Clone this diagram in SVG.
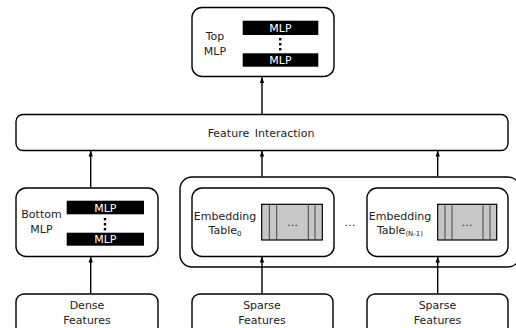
<svg xmlns="http://www.w3.org/2000/svg" width="516" height="328" viewBox="0 0 516 328">
<defs>
<marker id="ah" viewBox="0 0 6 6" refX="5.5" refY="3" markerWidth="6" markerHeight="6" markerUnits="userSpaceOnUse" orient="auto">
<path d="M0,0.8 L6,3 L0,5.2 Z" fill="#000"/>
</marker>
<style>
.box{fill:#fff;stroke:#000;stroke-width:1.4}
.t{font-family:"DejaVu Sans",Verdana,sans-serif;font-size:11px;fill:#222;text-anchor:middle}
.w{font-family:"DejaVu Sans",Verdana,sans-serif;font-size:11px;fill:#fff;text-anchor:middle}
.bar{fill:#000}
.tbl{fill:#c8c8c8;stroke:#000;stroke-width:1.2}
.tl{stroke:#444;stroke-width:1}
.c{stroke:#000;stroke-width:1.4;fill:none;marker-end:url(#ah)}
</style>
</defs>
<rect width="516" height="328" fill="#fff"/>

<g id="container">
<rect class="box" x="180" y="177" width="340" height="90" rx="12"/>
<text class="t" x="350" y="226">…</text>
</g>

<g id="top-mlp">
<rect class="box" x="192" y="7.5" width="142" height="69" rx="10"/>
<text class="t" x="215" y="39.5">Top</text>
<text class="t" x="215" y="54.5">MLP</text>
<rect class="bar" x="242.7" y="20.7" width="75.6" height="14.3"/>
<text class="w" x="280.5" y="32">MLP</text>
<rect class="bar" x="279" y="38" width="2.4" height="2.4"/>
<rect class="bar" x="279" y="43" width="2.4" height="2.4"/>
<rect class="bar" x="279" y="48" width="2.4" height="2.4"/>
<rect class="bar" x="242.7" y="53.3" width="75.6" height="13.4"/>
<text class="w" x="280.5" y="64">MLP</text>
</g>

<g id="feature-interaction">
<rect class="box" x="16" y="114.5" width="492" height="36" rx="7"/>
<text class="t" x="261" y="137" word-spacing="2">Feature Interaction</text>
</g>

<g id="bottom-mlp">
<rect class="box" x="16" y="188" width="142" height="68.5" rx="10"/>
<text class="t" x="41.5" y="218">Bottom</text>
<text class="t" x="41.5" y="232.5">MLP</text>
<rect class="bar" x="66.7" y="200.7" width="77.3" height="13.6"/>
<text class="w" x="105.3" y="211.5">MLP</text>
<rect class="bar" x="103.8" y="218" width="2.4" height="2.4"/>
<rect class="bar" x="103.8" y="223" width="2.4" height="2.4"/>
<rect class="bar" x="103.8" y="228" width="2.4" height="2.4"/>
<rect class="bar" x="66.7" y="232.7" width="77.3" height="13"/>
<text class="w" x="105.3" y="243">MLP</text>
</g>

<g id="emb0">
<rect class="box" x="192" y="188" width="142" height="68.5" rx="10"/>
<text class="t" x="225" y="220">Embedding</text>
<text class="t" x="225" y="234">Table<tspan font-size="7" dy="2">0</tspan></text>
<rect class="tbl" x="261.7" y="204.3" width="60.6" height="35.7"/>
<line class="tl" x1="269.3" y1="204.3" x2="269.3" y2="240"/>
<line class="tl" x1="276.7" y1="204.3" x2="276.7" y2="240"/>
<line class="tl" x1="308.3" y1="204.3" x2="308.3" y2="240"/>
<line class="tl" x1="315" y1="204.3" x2="315" y2="240"/>
<text class="t" x="292.5" y="226">…</text>
</g>

<g id="embN">
<rect class="box" x="367" y="188" width="141" height="68.5" rx="10"/>
<text class="t" x="400" y="220">Embedding</text>
<text class="t" x="400" y="234">Table<tspan font-size="7" dy="2">(N-1)</tspan></text>
<rect class="tbl" x="437.7" y="204.3" width="59" height="35.7"/>
<line class="tl" x1="445" y1="204.3" x2="445" y2="240"/>
<line class="tl" x1="452" y1="204.3" x2="452" y2="240"/>
<line class="tl" x1="483" y1="204.3" x2="483" y2="240"/>
<line class="tl" x1="490" y1="204.3" x2="490" y2="240"/>
<text class="t" x="467" y="226">…</text>
</g>

<g id="dense">
<rect class="box" x="16" y="294" width="142" height="44" rx="8"/>
<text class="t" x="87" y="308.5">Dense</text>
<text class="t" x="87" y="324">Features</text>
</g>

<g id="sparse0">
<rect class="box" x="192" y="294" width="141" height="44" rx="8"/>
<text class="t" x="262" y="308.5">Sparse</text>
<text class="t" x="262" y="324">Features</text>
</g>

<g id="sparseN">
<rect class="box" x="367" y="294" width="141" height="44" rx="8"/>
<text class="t" x="437.5" y="308.5">Sparse</text>
<text class="t" x="437.5" y="324">Features</text>
</g>

<g id="connectors">
<line class="c" x1="262" y1="114" x2="262" y2="77.5"/>
<line class="c" x1="90.7" y1="187.5" x2="90.7" y2="151"/>
<line class="c" x1="262" y1="176.5" x2="262" y2="151"/>
<line class="c" x1="437.7" y1="176.5" x2="437.7" y2="151"/>
<line class="c" x1="90.7" y1="293.5" x2="90.7" y2="257"/>
<line class="c" x1="262" y1="293.5" x2="262" y2="257"/>
<line class="c" x1="437.7" y1="293.5" x2="437.7" y2="257"/>
</g>
</svg>
